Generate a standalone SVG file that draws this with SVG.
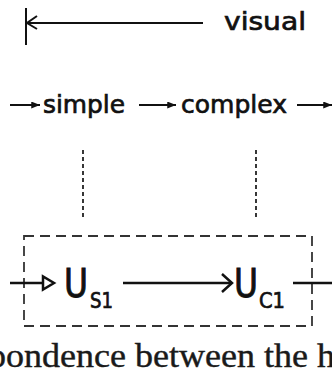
<svg xmlns="http://www.w3.org/2000/svg" width="332" height="382" viewBox="0 0 332 382">
  <defs>
    <style>
      .sans { font-family: "DejaVu Sans", "Liberation Sans", sans-serif; fill: #111; stroke: #111; stroke-width: 0.7; }
      .lbl { font-size: 25px; }
      .big { font-size: 39px; stroke-width: 1; }
      .sub { font-size: 21px; }
      .serif { font-family: "Liberation Serif", "Times New Roman", serif; font-size: 33px; fill: #1a1a1a; stroke: #1a1a1a; stroke-width: 0.4; }
      .ln { stroke: #111; stroke-width: 2; fill: none; }
      .thick { stroke: #111; stroke-width: 2.5; fill: none; }
      .dot { stroke: #222; stroke-width: 1.8; stroke-dasharray: 4 3; fill: none; }
      .dash { stroke: #333; stroke-width: 1.8; stroke-dasharray: 10 6; fill: none; }
    </style>
    <marker id="fillhead" viewBox="0 0 10 8" refX="10" refY="4" markerWidth="9" markerHeight="7" markerUnits="userSpaceOnUse" orient="auto">
      <path d="M0,0 L10,4 L0,8 Z" fill="#111"/>
    </marker>
  </defs>

  <g id="visual">
    <text class="sans lbl" x="224" y="30" textLength="82" lengthAdjust="spacingAndGlyphs">visual</text>
  </g>

  <g id="simple">
    <text class="sans lbl" x="43" y="113" textLength="82" lengthAdjust="spacingAndGlyphs">simple</text>
  </g>

  <g id="complex">
    <text class="sans lbl" x="181" y="113" textLength="106" lengthAdjust="spacingAndGlyphs">complex</text>
  </g>

  <g id="box">
    <rect class="dash" x="24" y="236" width="288" height="90"/>
  </g>

  <g id="U_S1">
    <text class="sans big" x="64" y="297" textLength="24" lengthAdjust="spacingAndGlyphs">U</text>
    <text class="sans sub" x="90" y="308" textLength="23" lengthAdjust="spacingAndGlyphs">S1</text>
  </g>

  <g id="U_C1">
    <text class="sans big" x="234" y="297" textLength="24" lengthAdjust="spacingAndGlyphs">U</text>
    <text class="sans sub" x="259" y="308" textLength="26" lengthAdjust="spacingAndGlyphs">C1</text>
  </g>

  <g id="caption">
    <text class="serif" x="-12" y="367" textLength="347" lengthAdjust="spacingAndGlyphs">pondence between the h</text>
  </g>

  <g id="connectors">
    <!-- visual range bar -->
    <line class="ln" x1="26" y1="8" x2="26" y2="45"/>
    <line class="ln" x1="27" y1="23" x2="203" y2="23"/>
    <polyline class="ln" points="37,16 27,23 37,29"/>
    <!-- process row -->
    <line class="ln" x1="10" y1="105" x2="40" y2="105" marker-end="url(#fillhead)"/>
    <line class="ln" x1="139" y1="105" x2="176" y2="105" marker-end="url(#fillhead)"/>
    <line class="ln" x1="297" y1="105" x2="332" y2="105" marker-end="url(#fillhead)"/>
    <!-- dotted correspondences -->
    <line class="dot" x1="83" y1="150" x2="83" y2="217"/>
    <line class="dot" x1="256" y1="150" x2="256" y2="217"/>
    <!-- unit row -->
    <line class="thick" x1="10" y1="283" x2="43" y2="283"/>
    <polygon points="43,276.5 43,289.5 54,283" fill="#fff" stroke="#111" stroke-width="2.5"/>
    <line class="thick" x1="123" y1="283" x2="231" y2="283"/>
    <polyline class="thick" points="222,274 232,283 222,292"/>
    <line class="thick" x1="293" y1="283" x2="332" y2="283"/>
  </g>
</svg>
